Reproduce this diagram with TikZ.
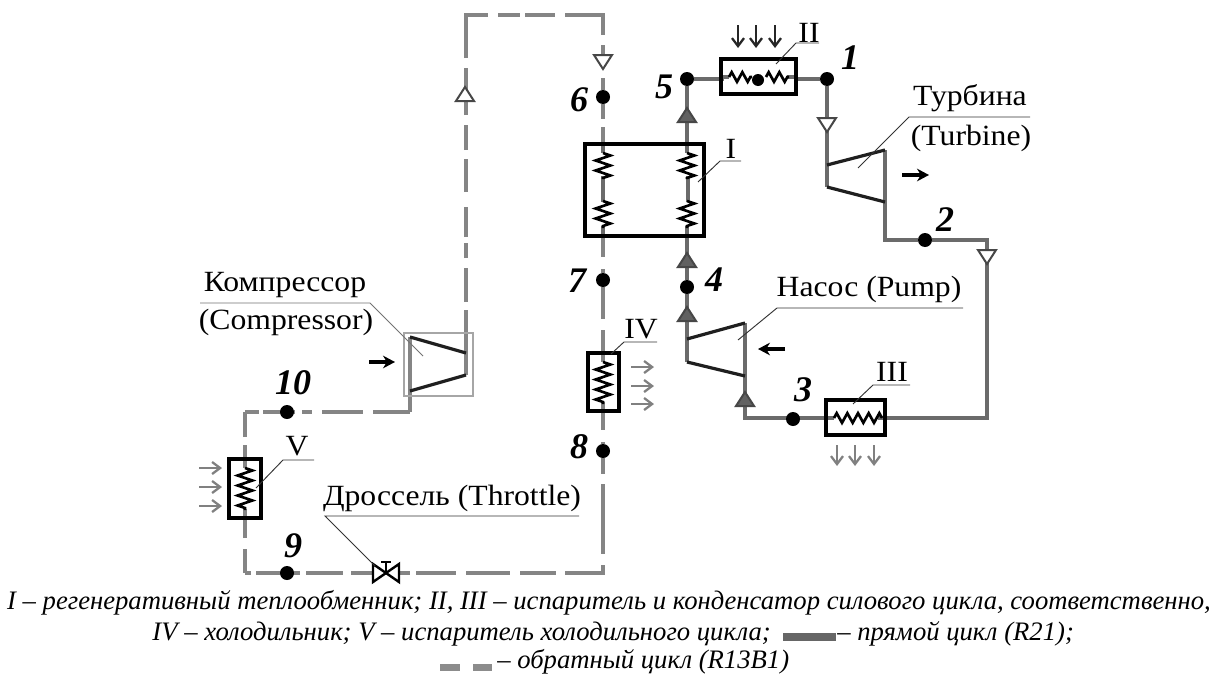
\documentclass[tikz,border=0pt]{standalone}
\usepackage{fontspec}
\usetikzlibrary{decorations.pathmorphing,arrows.meta,backgrounds}
\setmainfont{Liberation Serif}
\newfontfamily\lblfont[FakeStretch=1.08]{Liberation Serif}
\newcommand{\capt}[1]{{\fontsize{20}{22}\selectfont\itshape #1}}
\tikzset{
  x=0.75pt,y=-0.75pt,
  solidline/.style={draw=black!58,line width=2.4pt,line join=miter},
  dashline/.style={draw=black!48,line width=2.4pt},
  bladeline/.style={draw=black!88,line width=2.4pt},
  hxbox/.style={draw=black,line width=2.4pt,fill=none,inner sep=0pt},
  junction/.style={circle,fill=black,inner sep=0pt,minimum size=10.5pt},
  num/.style={font=\fontsize{27}{27}\selectfont\bfseries\itshape,inner sep=0pt},
  lbl/.style={font=\fontsize{22}{24}\selectfont\lblfont,inner sep=0pt},
  leader/.style={draw=black!80,line width=0.7pt},
  coilv/.style={draw=black,line width=2pt,decorate,decoration={zigzag,segment length=7.5pt,amplitude=5.5pt}},
  coilh/.style={draw=black,line width=2pt,decorate,decoration={zigzag,segment length=8pt,amplitude=3.6pt}},
  tri open/.style={draw=black!72,line width=1.5pt,fill=white},
  tri full/.style={draw=black!72,line width=1.5pt,fill=black!62},
  heat/.style={draw=black!85,line width=2pt,-{Straight Barb[length=6pt,width=9pt,line width=1.7pt]}},
  heat gray/.style={draw=black!50,line width=2pt,-{Straight Barb[length=6pt,width=9pt,line width=1.7pt]}},
  work/.style={draw=black,line width=2.3pt,-{Stealth[length=9pt,width=9.5pt]}},
}
\newcommand{\triup}[3]{\draw[#3] (#1-9,#2+7) -- (#1+9,#2+7) -- (#1,#2-7) -- cycle;}
\newcommand{\tridown}[3]{\draw[#3] (#1-9,#2-7) -- (#1+9,#2-7) -- (#1,#2+7) -- cycle;}
\begin{document}
\begin{tikzpicture}
\useasboundingbox (0,0) rectangle (1218,675);
% ---- junctions
\node[junction] (n1) at (827,79) {};
\node[junction] (n2) at (925,240) {};
\node[junction] (n3) at (793,419) {};
\node[junction] (n4) at (687,287) {};
\node[junction] (n5) at (687,79) {};
\node[junction] (n6) at (603,97) {};
\node[junction] (n7) at (603,280) {};
\node[junction] (n8) at (603,451) {};
\node[junction] (n9) at (287,573) {};
\node[junction] (n10) at (287,412) {};
% ---- way points
\coordinate (tin) at (827,165);
\coordinate (tinb) at (827,187);
\coordinate (tout) at (885,150);
\coordinate (toutb) at (885,202);
\coordinate (c2a) at (885,240);
\coordinate (c2b) at (987,240);
\coordinate (c3a) at (987,418);
\coordinate (c3b) at (745,418);
\coordinate (pin) at (745,376);
\coordinate (pint) at (745,323);
\coordinate (pout) at (687,339);
\coordinate (poutb) at (687,362);
\coordinate (cin) at (410,337);
\coordinate (cinb) at (410,391);
\coordinate (cout) at (466,353);
\coordinate (coutb) at (466,375);
\coordinate (d1) at (410,412);
\coordinate (d2) at (245,412);
\coordinate (d3) at (245,573);
\coordinate (d4) at (603,573);
\coordinate (d5) at (466,15);
\coordinate (d6) at (603,15);
\coordinate (valve) at (386,573);
\begin{scope}[on background layer]
\fill[white] (0,0) rectangle (1218,675);
% ---- forward cycle
\draw[solidline] (n5) -- (n1);
\draw[solidline] (n1) -- (tinb);
\draw[solidline] (tout) -- (c2a) -- (n2) -- (c2b) -- (c3a) -- (c3b) -- (pint);
\draw[solidline] (poutb) -- (n4) -- (n5);
% ---- reverse cycle (irregular dashes as printed)
\draw[dashline,dash pattern=on 32.25pt off 6pt on 25.5pt off 7.5pt on 11.25pt off 4.5pt on 22.5pt off 11.25pt on 24.75pt off 6.75pt on 18.75pt off 7.5pt on 35.25pt off 7.5pt on 48.75pt off 7.5pt on 16.5pt off 3.75pt on 22.5pt off 7.5pt on 43.5pt off 7.5pt on 7.5pt off 17.25pt on 14.25pt off 50pt] (cout) -- (d5) -- (d6) -- (n6);
\draw[dashline,dash pattern=on 11.25pt off 6pt on 97.5pt off 9pt on 13.5pt off 50pt] (n6) -- (n7);
\draw[dashline,dash pattern=on 24pt off 8.25pt on 75pt off 9pt on 13.5pt off 50pt] (n7) -- (n8);
\draw[dashline,dash pattern=on 12pt off 7.5pt on 52.5pt off 8.25pt on 34.5pt off 6.75pt on 27pt off 7.5pt on 33pt off 7.5pt on 30pt off 4.5pt on 44.25pt off 6pt on 27.75pt off 4.5pt on 33pt off 3.75pt on 11pt off 50pt] (n8) -- (d4) -- (d3);
\draw[dashline,dash pattern=on 18pt off 8.25pt on 69.75pt off 6pt on 20pt off 50pt] (d3) -- (d2);
\draw[dashline,dash pattern=on 10.5pt off 3pt on 24pt off 5.25pt on 7.5pt off 7.5pt on 30.75pt off 7.5pt on 30pt off 50pt] (d2) -- (d1);
\draw[solidline,draw=black!48] (466,310) -- (coutb);
\draw[solidline,draw=black!48] (cin) -- (d1);
\end{scope}
% ---- machines
\draw[bladeline] (tin) -- (tout);
\draw[bladeline] (tinb) -- (toutb);
\draw[bladeline] (pout) -- (pint);
\draw[bladeline] (poutb) -- (pin);
\draw[draw=black!35,line width=0.8pt] (404,333) rectangle (473,396);
\draw[bladeline] (cin) -- (cout);
\draw[bladeline] (cinb) -- (coutb);
% ---- heat exchangers
\fill[white] (724,60) rectangle (794,93);
\draw[solidline] (721,77) -- (729,77) (787,77) -- (796,77);
\draw[coilh] (729,77) -- (752,77);
\draw[coilh] (766,77) -- (789,77);
\node[circle,fill=black,inner sep=0pt,minimum size=9pt] (hxdot) at (758,80) {};
\node[hxbox,minimum width=56.25pt,minimum height=26.25pt] (hxII) at (758.5,76.5) {};
\fill[white] (587,146) rectangle (702,234);
\draw[solidline] (603,144) -- (603,153) (603,176) -- (603,202) (603,226) -- (603,236);
\draw[solidline] (687,144) -- (687,153) (688,176) -- (688,202) (687,226) -- (687,236);
\draw[coilv] (603,153) -- (603,179);
\draw[coilv] (603,201) -- (603,228);
\draw[coilv] (687,153) -- (687,179);
\draw[coilv] (687,201) -- (687,228);
\node[hxbox,minimum width=89.25pt,minimum height=69pt] (hxI) at (644.5,190) {};
\fill[white] (828,402) rectangle (883,433);
\draw[solidline] (826,418) -- (834,418) (878,418) -- (885,418);
\draw[coilh] (834,418) -- (882,418);
\node[hxbox,minimum width=44.25pt,minimum height=26.25pt] (hxIII) at (855.5,417.5) {};
\fill[white] (590,355) rectangle (617,409);
\draw[solidline,draw=black!48] (603,353) -- (603,362) (603,402) -- (603,411);
\draw[coilv] (603,362) -- (603,404);
\node[hxbox,minimum width=23.25pt,minimum height=43.5pt] (hxIV) at (603.5,382) {};
\fill[white] (231,461) rectangle (259,516);
\draw[solidline,draw=black!48] (245,459) -- (245,468) (245,509) -- (245,518);
\draw[coilv] (245,468) -- (245,510);
\node[hxbox,minimum width=24pt,minimum height=44.25pt] (hxV) at (245,488.5) {};
% ---- valve
\draw[fill=white,draw=black,line width=1.8pt] (373,564) -- (373,582) -- (399,564) -- (399,582) -- cycle;
\draw[draw=black,line width=1.8pt] (386,573) -- (386,562) (381,562) -- (391,562);
% ---- flow triangles
\tridown{603}{62}{tri open}
\tridown{827}{125}{tri open}
\tridown{987}{257}{tri open}
\triup{465}{94}{tri open}
\triup{687}{115}{tri full}
\triup{687}{260}{tri full}
\triup{687}{314}{tri full}
\triup{745}{399}{tri full}
% ---- heat and work arrows
\foreach \xx in {738,756,775}{\draw[heat] (\xx,25) -- (\xx,48);}
\foreach \xx in {837,855,874}{\draw[heat gray] (\xx,445) -- (\xx,466);}
\foreach \yy in {367,386,404}{\draw[heat gray] (631,\yy) -- (654,\yy);}
\foreach \yy in {468,487,506}{\draw[heat gray] (199,\yy) -- (222,\yy);}
\draw[work] (902,175) -- (929,175);
\draw[work] (785,349) -- (758,349);
\draw[work] (369,362) -- (395,362);
% ---- numbers
\node[num] (t1) at (850,58) {1};
\node[num] (t2) at (945,220) {2};
\node[num] (t3) at (803,390) {3};
\node[num] (t4) at (714,280) {4};
\node[num] (t5) at (664,87) {5};
\node[num] (t6) at (579,100) {6};
\node[num] (t7) at (577,281) {7};
\node[num] (t8) at (579,447) {8};
\node[num] (t9) at (293,546) {9};
\node[num] (t10) at (293,383) {10};
% ---- labels and leaders
\node[lbl] (lt) at (970,98) {Турбина};
\node[lbl] (lt2) at (971,138) {(Turbine)};
\coordinate (lta) at (1030,117); \coordinate (ltb) at (909,117); \coordinate (ltc) at (858,168);
\draw[leader] (lta) -- (ltb) -- (ltc);
\node[lbl] (lp) at (869,289) {Насос (Pump)};
\coordinate (lpa) at (963,308); \coordinate (lpb) at (777,308); \coordinate (lpc) at (738,340);
\draw[leader] (lpa) -- (lpb) -- (lpc);
\node[lbl] (lc) at (285,285) {Компрессор};
\node[lbl] (lc2) at (286,322) {(Compressor)};
\coordinate (lca) at (200,303); \coordinate (lcb) at (370,303); \coordinate (lcc) at (423,356);
\draw[leader,draw=black!55] (lca) -- (lcb) -- (lcc);
\node[lbl] (ld) at (452,498) {Дроссель (Throttle)};
\coordinate (lda) at (579,516); \coordinate (ldb) at (325,516); \coordinate (ldc) at (375,566);
\draw[leader] (lda) -- (ldb) -- (ldc);
\node[lbl] (l5) at (297,446) {V};
\coordinate (l5a) at (314,460); \coordinate (l5b) at (283,460); \coordinate (l5c) at (256,488);
\draw[leader] (l5a) -- (l5b) -- (l5c);
\node[lbl] (l1) at (731,149) {I};
\coordinate (l1a) at (741,161); \coordinate (l1b) at (720,161); \coordinate (l1c) at (698,182);
\draw[leader] (l1a) -- (l1b) -- (l1c);
\node[lbl] (l2) at (809,33) {II};
\coordinate (l2a) at (819,43); \coordinate (l2b) at (796,43); \coordinate (l2c) at (776,64);
\draw[leader] (l2a) -- (l2b) -- (l2c);
\node[lbl] (l3) at (892,372) {III};
\coordinate (l3a) at (910,385); \coordinate (l3b) at (873,385); \coordinate (l3c) at (853,404);
\draw[leader] (l3a) -- (l3b) -- (l3c);
\node[lbl] (l4) at (641,329) {IV};
\coordinate (l4a) at (657,342); \coordinate (l4b) at (624,342); \coordinate (l4c) at (611,354);
\draw[leader] (l4a) -- (l4b) -- (l4c);
% ---- caption
\node[inner sep=0pt] (cap1) at (609,603) {\capt{I – регенеративный теплообменник; II, III – испаритель и конденсатор силового цикла, соответственно,}};
\node[inner sep=0pt,anchor=east] (cap2) at (771,634) {\capt{IV – холодильник; V – испаритель холодильного цикла;}};
\node[inner sep=0pt,anchor=west] (cap2b) at (837,634) {\capt{– прямой цикл (R21);}};
\node[inner sep=0pt,anchor=west] (cap3) at (497,662) {\capt{– обратный цикл (R13B1)}};
\fill[black!60] (783,633) rectangle (836,641);
\fill[black!45] (440,664) rectangle (460,671);
\fill[black!45] (473,664) rectangle (492,671);
\end{tikzpicture}
\end{document}
